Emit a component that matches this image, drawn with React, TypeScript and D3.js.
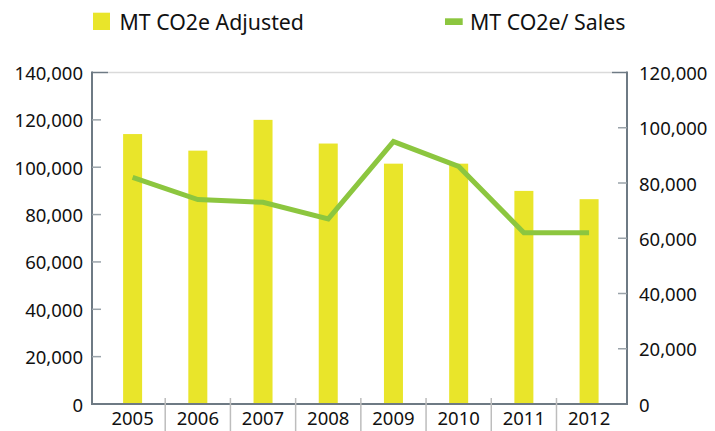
import React from 'react';
import { scaleBand, scaleLinear, line } from 'd3';

const years = ['2005', '2006', '2007', '2008', '2009', '2010', '2011', '2012'];
const adjusted = [114000, 107000, 120000, 110000, 101500, 101500, 90000, 86500];
const perSales = [82000, 74000, 73000, 67000, 95000, 86000, 62000, 62000];
const leftTicks = [0, 20000, 40000, 60000, 80000, 100000, 120000, 140000];
const rightTicks = [0, 20000, 40000, 60000, 80000, 100000, 120000];

const W = 715;
const H = 431;
const left = 92;
const right = 627;
const top = 72.5;
const bottom = 404;

const YELLOW = '#E9E52A';
const GREEN = '#8CC63F';
const AXIS = '#6E7A84';
const FONT = '"Noto Sans", sans-serif';

const fmt = (v: number) => v.toLocaleString('en-US');

export default function App() {
  const x = scaleBand().domain(years).range([100, 621.7]);
  const yL = scaleLinear().domain([0, 140000]).range([bottom, top]);
  const yR = scaleLinear().domain([0, 120000]).range([bottom, top]);
  const barW = 19;

  const path = line<number>()
    .x((_, i) => x(years[i])! + x.bandwidth() / 2)
    .y(d => yR(d));

  return (
    <svg width={W} height={H} style={{ position: 'absolute', left: 0, top: 0, fontFamily: FONT }}>
      {/* legend */}
      <rect x={93} y={12.7} width={17} height={17.3} fill={YELLOW} />
      <text x={119.5} y={29.5} fontSize={21.3} fill="#111">MT CO2e Adjusted</text>
      <rect x={445} y={18.3} width={17.7} height={6.7} fill={GREEN} />
      <text x={470} y={29.5} fontSize={21.3} fill="#111">MT CO2e/ Sales</text>

      {/* top grid line */}
      <line x1={108} x2={612} y1={top} y2={top} stroke="#DADADA" strokeWidth={1.5} />

      {/* bars */}
      {adjusted.map((v, i) => (
        <rect key={years[i]}
          x={x(years[i])! + x.bandwidth() / 2 - barW / 2}
          y={yL(v)}
          width={barW}
          height={bottom - yL(v)}
          fill={YELLOW} />
      ))}

      {/* line */}
      <path d={path(perSales)!} fill="none" stroke={GREEN} strokeWidth={5} strokeLinejoin="miter" />

      {/* left axis */}
      <line x1={left} x2={left} y1={top - 1} y2={bottom} stroke={AXIS} strokeWidth={2} />
      {leftTicks.map(t => (
        <g key={'l' + t}>
          <line x1={left} x2={t === 140000 ? 108 : 101} y1={yL(t)} y2={yL(t)} stroke={t === 140000 ? AXIS : '#9AA3AA'} strokeWidth={1.5} />
          <text x={83} y={yL(t)} fontSize={18.5} textAnchor="end" dominantBaseline="central" fill="#111">{fmt(t)}</text>
        </g>
      ))}

      {/* right axis */}
      <line x1={right} x2={right} y1={top - 1} y2={bottom} stroke={AXIS} strokeWidth={2} />
      {rightTicks.map(t => (
        <g key={'r' + t}>
          <line x1={t === 120000 ? 612 : 618} x2={right} y1={yR(t)} y2={yR(t)} stroke={t === 120000 ? AXIS : '#9AA3AA'} strokeWidth={1.5} />
          <text x={639} y={yR(t)} fontSize={18.5} dominantBaseline="central" fill="#111">{fmt(t)}</text>
        </g>
      ))}

      {/* bottom axis */}
      <line x1={left - 1} x2={right + 1} y1={bottom} y2={bottom} stroke={AXIS} strokeWidth={2} />
      {years.slice(1).map(yr => (
        <line key={'s' + yr} x1={x(yr)} x2={x(yr)} y1={398} y2={H} stroke="#BDBDBD" strokeWidth={1.5} />
      ))}
      {years.map(yr => (
        <text key={'t' + yr} x={x(yr)! + x.bandwidth() / 2} y={425} fontSize={18.5} textAnchor="middle" fill="#111">{yr}</text>
      ))}
    </svg>
  );
}
